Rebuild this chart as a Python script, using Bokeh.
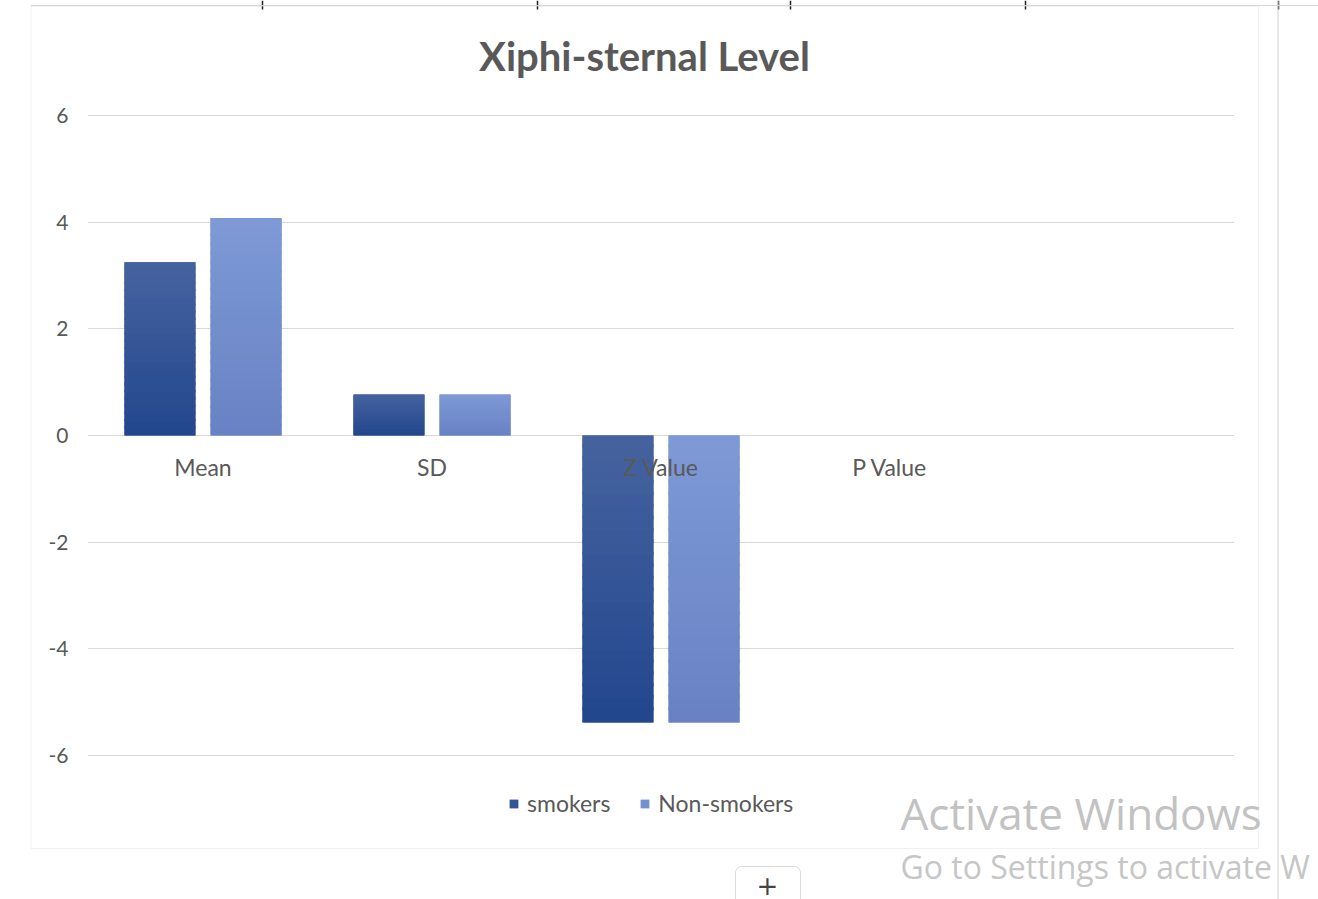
from bokeh.plotting import figure
from bokeh.models import (ColumnDataSource, Range1d, FixedTicker, Label,
                          BoxAnnotation, Legend, LegendItem, Span)
from bokeh.core.properties import value
from bokeh.embed import file_html
from bokeh.resources import INLINE

# --- data -------------------------------------------------------------
categories = ["Mean", "SD", "Z Value", "P Value", ""]
smokers = [3.25, 0.77, -5.38, 0.002]
non_smokers = [4.08, 0.77, -5.38, 0.002]
y_ticks = [-6, -4, -2, 0, 2, 4, 6]
title_text = "Xiphi-sternal Level"
series_names = ["smokers", "Non-smokers"]

# --- page geometry (pixels) -------------------------------------------
W, H = 1318, 899
plot_l, plot_r = 88, 1233      # extent of the plot area (gridlines)
box_l, box_r, box_t, box_b = 30, 1258, 6, 848   # chart border
zero_px = 435                  # vertical pixel of y = 0
px_per_unit = 53.333           # vertical pixels per y unit
n_slots = len(categories)
px_per_slot = (plot_r - plot_l) / n_slots
sheet_marks = [262, 537, 790, 1025, 1278]   # sheet column separators


def dx(px):
    return (px - plot_l) / px_per_slot


def dy(py):
    return (zero_px - py) / px_per_unit


FONT = "Lato"
GREY = "#595959"
SMOKE_TOP, SMOKE_BOT = "#46639F", "#22468D"
NON_TOP, NON_BOT = "#7E99D6", "#6882C4"
SMOKE_KEY, NON_KEY = "#2F5597", "#7390D0"

p = figure(width=W, height=H, output_backend="svg", toolbar_location=None,
           x_range=Range1d(dx(box_l), dx(W)), y_range=Range1d(dy(H), dy(0)),
           min_border_left=box_l, min_border_right=0,
           min_border_top=0, min_border_bottom=0)
p.outline_line_color = None
p.background_fill_color = "white"
p.border_fill_color = "white"

# axes / grid
p.xaxis.visible = False
p.xgrid.visible = False
yax = p.yaxis[0]
yax.ticker = FixedTicker(ticks=y_ticks)
yax.major_label_overrides = {t: str(t) for t in y_ticks}
yax.axis_line_color = None
yax.major_tick_line_color = None
yax.minor_tick_line_color = None
yax.major_tick_out = 0
yax.major_tick_in = 0
yax.major_label_standoff = -(68 - box_l)
yax.major_label_text_font = FONT
yax.major_label_text_font_size = "21px"
yax.major_label_text_color = GREY
p.ygrid.ticker = FixedTicker(ticks=y_ticks)
p.ygrid.grid_line_color = "#D9D9D9"
p.ygrid.grid_line_width = 1

# keep gridlines inside the plot area
p.add_layout(BoxAnnotation(left=dx(box_l) - 1, right=dx(plot_l - 0.5),
                           top=dy(0), bottom=dy(H), fill_color="white",
                           fill_alpha=1, line_color=None, level="underlay"))
p.add_layout(BoxAnnotation(left=dx(plot_r + 0.5), right=dx(W) + 1,
                           top=dy(0), bottom=dy(H), fill_color="white",
                           fill_alpha=1, line_color=None, level="underlay"))


def mix(c0, c1, t):
    a = [int(c0[i:i + 2], 16) for i in (1, 3, 5)]
    b = [int(c1[i:i + 2], 16) for i in (1, 3, 5)]
    return "#" + "".join(f"{round(x + (y - x) * t):02x}" for x, y in zip(a, b))


bar_w = 0.31
offset = 0.188
centers = [i + 0.5 for i in range(len(smokers))]

# solid series bars (also used as legend keys)
base = ColumnDataSource(dict(xs=[c - offset for c in centers],
                             xn=[c + offset for c in centers],
                             s=smokers, n=non_smokers))
r_s = p.vbar(x="xs", top="s", bottom=0, width=bar_w, source=base,
             fill_color=SMOKE_KEY, line_color=None)
r_n = p.vbar(x="xn", top="n", bottom=0, width=bar_w, source=base,
             fill_color=NON_KEY, line_color=None)

# top-to-bottom shading laid over each bar as thin slices of its value
N = 24
for vals, c_top, c_bot, off in ((smokers, SMOKE_TOP, SMOKE_BOT, -offset),
                                (non_smokers, NON_TOP, NON_BOT, offset)):
    xs, bots, tops, cols = [], [], [], []
    for i, v in enumerate(vals):
        hi_bar, lo_bar = max(v, 0), min(v, 0)
        span = hi_bar - lo_bar
        for k in range(N):
            a = lo_bar + span * k / N
            b = lo_bar + span * (k + 1) / N
            t = (hi_bar - (a + b) / 2) / span if span else 0
            xs.append(i + 0.5 + off)
            bots.append(a)
            tops.append(min(b + 0.012 * span, hi_bar))
            cols.append(mix(c_top, c_bot, t))
    p.vbar(x=xs, bottom=bots, top=tops, width=bar_w, fill_color=cols,
           line_color=None)

# category labels just under the zero line
lab_src = ColumnDataSource(dict(x=[i + 0.5 for i in range(n_slots)],
                                y=[0] * n_slots, t=categories))
p.text(x="x", y="y", text="t", source=lab_src, text_align="center",
       text_baseline="top", y_offset=17, text_font=value(FONT),
       text_font_size="23px", text_color=GREY)

# title
p.add_layout(Label(x=dx(644), y=dy(55), text=title_text, text_align="center",
                   text_baseline="middle", text_font=FONT,
                   text_font_size="40px", text_font_style="bold",
                   text_color=GREY))

# legend along the bottom
legend = Legend(items=[LegendItem(label=series_names[0], renderers=[r_s]),
                       LegendItem(label=series_names[1], renderers=[r_n])],
                orientation="horizontal", location=(508 - box_l, H - 817),
                glyph_width=11, glyph_height=11, label_standoff=8,
                spacing=29, padding=0, margin=0,
                label_text_font=FONT, label_text_font_size="23px",
                label_text_color=GREY, border_line_color=None,
                background_fill_alpha=0)
p.add_layout(legend, "center")

# chart border and sheet lines
p.add_layout(BoxAnnotation(left=dx(box_l + 0.5), right=dx(box_r), top=dy(box_t),
                           bottom=dy(box_b), fill_alpha=0, line_color="#CFCFCF",
                           line_width=1))
p.add_layout(Span(location=dx(1277.5), dimension="height",
                  line_color="#CFCFCF", line_width=1))
p.add_layout(Span(location=dy(5), dimension="width",
                  line_color="#D6D6D6", line_width=1))
p.segment(x0=[dx(m) for m in sheet_marks], x1=[dx(m) for m in sheet_marks],
          y0=[dy(0)] * len(sheet_marks), y1=[dy(9)] * len(sheet_marks),
          line_color="#222222", line_width=1.5)

# system watermark text
p.add_layout(Label(x=dx(900), y=dy(812), text="Activate Windows",
                   text_baseline="middle", text_font="Open Sans",
                   text_font_size="44px", text_color="#C2C2C2"))
p.add_layout(Label(x=dx(900), y=dy(866), text="Go to Settings to activate W",
                   text_baseline="middle", text_font="Open Sans",
                   text_font_size="32px", text_color="#C6C6C6"))

# small "+" button below the chart
p.add_layout(BoxAnnotation(left=dx(735), right=dx(800), top=dy(866), bottom=dy(910),
                           fill_color="white", fill_alpha=1, line_color="#8A8A8A",
                           line_width=1, border_radius=6))
p.add_layout(Label(x=dx(767), y=dy(884), text="+", text_align="center",
                   text_baseline="middle", text_font="DejaVu Sans",
                   text_font_size="26px", text_color="#444444"))

open("out.html", "w").write(file_html(p, INLINE))
